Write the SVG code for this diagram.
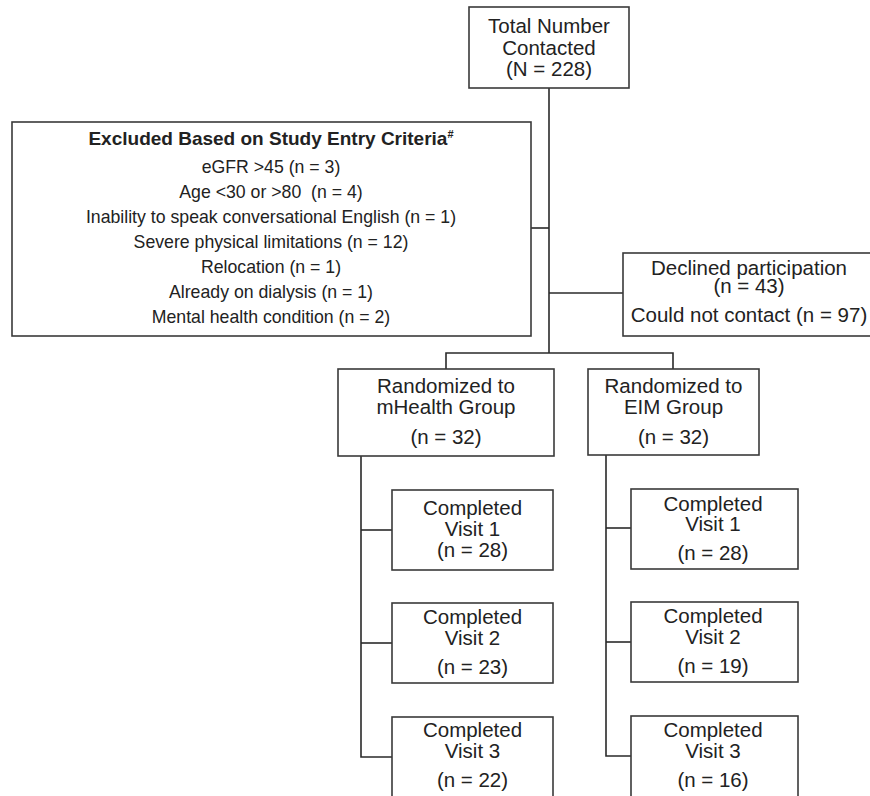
<svg xmlns="http://www.w3.org/2000/svg" width="870" height="796" viewBox="0 0 870 796">
<style>
  .box { fill: #ffffff; stroke: #3a3a3a; stroke-width: 1.6; }
  .conn { fill: none; stroke: #2a2a2a; stroke-width: 1.6; }
  text { font-family: "Liberation Sans", Arial, sans-serif; fill: #222222; text-anchor: middle; }
  .t20 { font-size: 20.5px; }
  .t17 { font-size: 17.7px; }
  .title { font-size: 19px; font-weight: bold; }
</style>
<rect x="0" y="0" width="870" height="796" fill="#ffffff"/>
<g id="connectors">
  <path class="conn" d="M549,88 V353"/>
  <path class="conn" d="M531,228 H549"/>
  <path class="conn" d="M549,293 H623"/>
  <path class="conn" d="M446,369 V353 H673 V369"/>
  <path class="conn" d="M361,456 V757 H392"/>
  <path class="conn" d="M361,530 H392"/>
  <path class="conn" d="M361,643 H392"/>
  <path class="conn" d="M606,455 V756 H631"/>
  <path class="conn" d="M606,528 H631"/>
  <path class="conn" d="M606,642 H631"/>
</g>
<g id="total">
  <rect class="box" x="469" y="7" width="160" height="81"/>
  <text class="t20" x="549" y="33">Total Number</text>
  <text class="t20" x="549" y="55">Contacted</text>
  <text class="t20" x="549" y="76">(N = 228)</text>
</g>
<g id="excluded">
  <rect class="box" x="12" y="122" width="519" height="214"/>
  <text class="title" x="271" y="145">Excluded Based on Study Entry Criteria<tspan font-size="11px" dy="-7">#</tspan></text>
  <text class="t17" x="271" y="173">eGFR &gt;45 (n = 3)</text>
  <text class="t17" x="271" y="198" xml:space="preserve">Age &lt;30 or &gt;80  (n = 4)</text>
  <text class="t17" x="271" y="223">Inability to speak conversational English (n = 1)</text>
  <text class="t17" x="271" y="248">Severe physical limitations (n = 12)</text>
  <text class="t17" x="271" y="273">Relocation (n = 1)</text>
  <text class="t17" x="271" y="298">Already on dialysis (n = 1)</text>
  <text class="t17" x="271" y="323">Mental health condition (n = 2)</text>
</g>
<g id="declined">
  <rect class="box" x="623" y="253" width="260" height="83"/>
  <text class="t20" x="749" y="275">Declined participation</text>
  <text class="t20" x="749" y="293">(n = 43)</text>
  <text class="t20" x="749" y="322">Could not contact (n = 97)</text>
</g>
<g id="mhealth">
  <rect class="box" x="338" y="369" width="216" height="87"/>
  <text class="t20" x="446" y="393">Randomized to</text>
  <text class="t20" x="446" y="414">mHealth Group</text>
  <text class="t20" x="446" y="444">(n = 32)</text>
</g>
<g id="eim">
  <rect class="box" x="588" y="369" width="171" height="86"/>
  <text class="t20" x="673.5" y="393">Randomized to</text>
  <text class="t20" x="673.5" y="414">EIM Group</text>
  <text class="t20" x="673.5" y="444">(n = 32)</text>
</g>
<g id="mhealth-visit1">
  <rect class="box" x="392" y="490" width="161" height="80"/>
  <text class="t20" x="472.5" y="515">Completed</text>
  <text class="t20" x="472.5" y="536">Visit 1</text>
  <text class="t20" x="472.5" y="557">(n = 28)</text>
</g>
<g id="mhealth-visit2">
  <rect class="box" x="392" y="603" width="161" height="80"/>
  <text class="t20" x="472.5" y="624">Completed</text>
  <text class="t20" x="472.5" y="645">Visit 2</text>
  <text class="t20" x="472.5" y="674">(n = 23)</text>
</g>
<g id="mhealth-visit3">
  <rect class="box" x="392" y="717" width="161" height="90"/>
  <text class="t20" x="472.5" y="737">Completed</text>
  <text class="t20" x="472.5" y="758">Visit 3</text>
  <text class="t20" x="472.5" y="787">(n = 22)</text>
</g>
<g id="eim-visit1">
  <rect class="box" x="631" y="489" width="167" height="80"/>
  <text class="t20" x="713" y="511">Completed</text>
  <text class="t20" x="713" y="531">Visit 1</text>
  <text class="t20" x="713" y="560">(n = 28)</text>
</g>
<g id="eim-visit2">
  <rect class="box" x="631" y="602" width="167" height="80"/>
  <text class="t20" x="713" y="623">Completed</text>
  <text class="t20" x="713" y="644">Visit 2</text>
  <text class="t20" x="713" y="673">(n = 19)</text>
</g>
<g id="eim-visit3">
  <rect class="box" x="631" y="716" width="167" height="90"/>
  <text class="t20" x="713" y="737">Completed</text>
  <text class="t20" x="713" y="758">Visit 3</text>
  <text class="t20" x="713" y="787">(n = 16)</text>
</g>
</svg>
